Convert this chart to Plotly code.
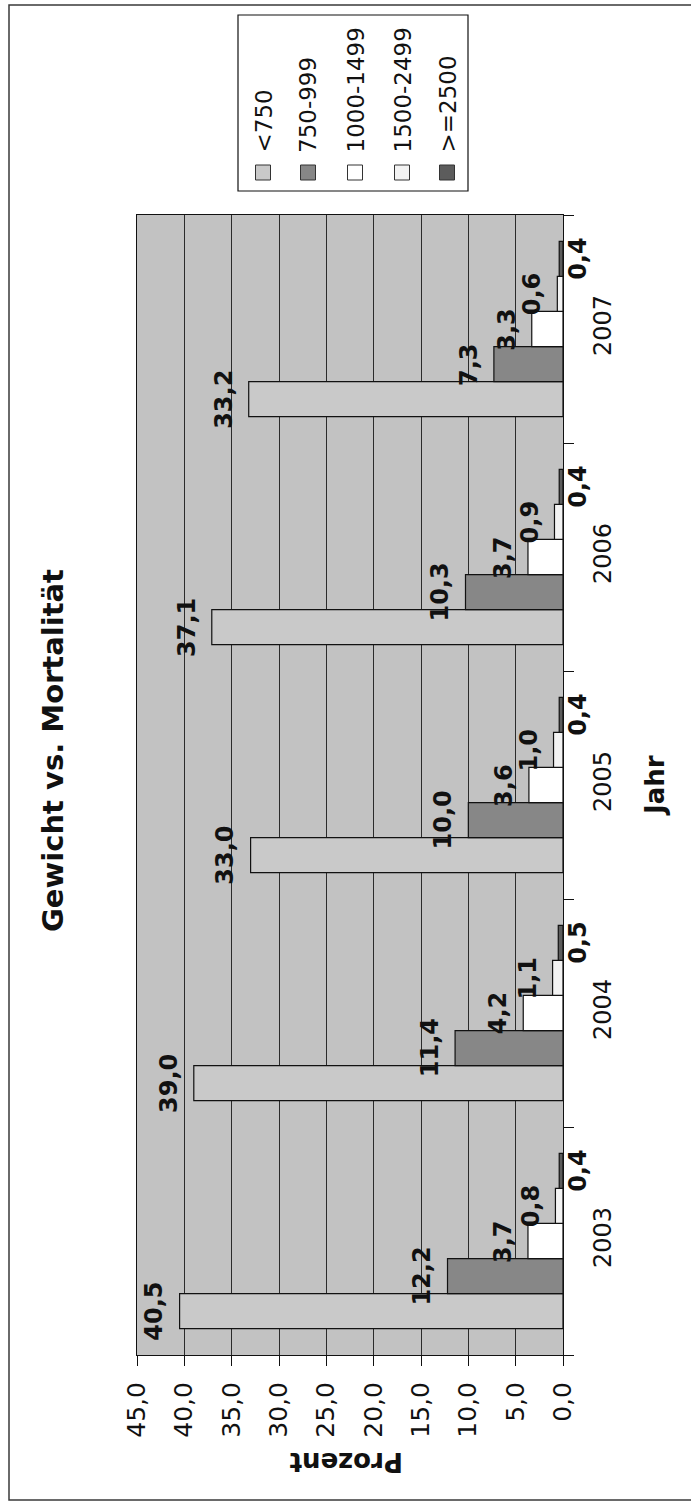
import plotly.graph_objects as go

# Mortality (%) by birth-weight class and year
years = ["2003", "2004", "2005", "2006", "2007"]
series_names = ["<750", "750-999", "1000-1499", "1500-2499", ">=2500"]
lt750 = [40.5, 39.0, 33.0, 37.1, 33.2]
w750_999 = [12.2, 11.4, 10.0, 10.3, 7.3]
w1000_1499 = [3.7, 4.2, 3.6, 3.7, 3.3]
w1500_2499 = [0.8, 1.1, 1.0, 0.9, 0.6]
ge2500 = [0.4, 0.5, 0.4, 0.4, 0.4]
x_ticks = [0, 5, 10, 15, 20, 25, 30, 35, 40, 45]

series_values = [lt750, w750_999, w1000_1499, w1500_2499, ge2500]
series_colors = ["#c9c9c9", "#878787", "#ffffff", "#f3f3f3", "#5c5c5c"]

W, H = 691, 1504
# plot area in pixels
L, R, T, B = 137, 563, 215, 1355
FONT = "DejaVu Sans"
BARGAP = 1.5 / 6.5


def px(X):
    return (X - L) / (R - L)


def py(Y):
    return (B - Y) / (B - T)


def fmt(v):
    return f"{v:.1f}".replace(".", ",")


fig = go.Figure()

for name, vals, col in zip(series_names, series_values, series_colors):
    fig.add_trace(go.Bar(
        name=name,
        y=years,
        x=vals,
        orientation="h",
        marker=dict(color=col, line=dict(color="#111111", width=1.2)),
        showlegend=False,
    ))

annotations = []

# value labels: beyond the bar end, except the smallest class,
# whose labels sit just right of the category axis
band_px = (B - T) / len(years)
bar_px = band_px * (1 - BARGAP) / len(series_names)
label_font = dict(family=FONT, size=24, color="#111111", weight="bold")
n_series = len(series_names)
for s, vals in enumerate(series_values):
    offset = (s - (n_series - 1) / 2) * bar_px
    last = s == n_series - 1
    for idx, v in enumerate(vals):
        annotations.append(dict(
            x=0 if last else v, y=idx, xref="x", yref="y", text=fmt(v),
            showarrow=False, textangle=-90,
            xanchor="left" if last else "right", yanchor="middle",
            xshift=-1 if last else -9, yshift=offset,
            font=label_font,
        ))

# chart title and axis titles
annotations.append(dict(
    x=px(53), y=py(751), xref="paper", yref="paper", text="Gewicht vs. Mortalität",
    showarrow=False, textangle=-90, xanchor="center", yanchor="middle",
    font=dict(family=FONT, size=29, color="#111111", weight="bold"),
))
annotations.append(dict(
    x=px(655), y=py(786), xref="paper", yref="paper", text="Jahr",
    showarrow=False, textangle=-90, xanchor="center", yanchor="middle",
    font=dict(family=FONT, size=26, color="#111111", weight="bold"),
))
annotations.append(dict(
    x=px(347), y=py(1462), xref="paper", yref="paper", text="Prozent",
    showarrow=False, textangle=180, xanchor="center", yanchor="middle",
    font=dict(family=FONT, size=26, color="#111111", weight="bold"),
))

shapes = []
# outer chart frame
shapes.append(dict(type="rect", xref="paper", yref="paper",
                   x0=px(9), x1=px(760), y0=py(1500), y1=py(5),
                   line=dict(color="#3a3a3a", width=1.5), fillcolor="rgba(0,0,0,0)",
                   layer="below"))

# legend box with rotated entries
shapes.append(dict(type="rect", xref="paper", yref="paper",
                   x0=px(238), x1=px(468), y0=py(191), y1=py(15),
                   line=dict(color="#111111", width=1.2), fillcolor="#ffffff"))
legend_x = [263, 308, 355, 402, 447]
for name, col, lx in zip(series_names, series_colors, legend_x):
    shapes.append(dict(type="rect", xref="paper", yref="paper",
                       x0=px(lx - 7.5), x1=px(lx + 7.5), y0=py(180), y1=py(165),
                       line=dict(color="#333333", width=1), fillcolor=col))
    annotations.append(dict(
        x=px(lx), y=py(155), xref="paper", yref="paper", text=name,
        showarrow=False, textangle=-90, xanchor="center", yanchor="bottom",
        font=dict(family=FONT, size=23, color="#111111"),
    ))

fig.update_layout(
    width=W, height=H,
    margin=dict(l=L, r=W - R, t=T, b=H - B, pad=0),
    paper_bgcolor="#ffffff",
    plot_bgcolor="#c2c2c2",
    barmode="group",
    bargap=BARGAP,
    bargroupgap=0,
    separators=",.",
    showlegend=False,
    annotations=annotations,
    shapes=shapes,
    font=dict(family=FONT, color="#111111"),
)

fig.update_xaxes(
    range=[45, 0],
    tickvals=x_ticks,
    tickformat=".1f",
    tickangle=-90,
    ticks="outside", ticklen=10, tickwidth=1.2, tickcolor="#111111",
    ticklabelstandoff=6,
    showline=True, linecolor="#111111", linewidth=1.2, mirror=True,
    showgrid=True, gridcolor="#2b2b2b", gridwidth=1.2,
    zeroline=False,
    tickfont=dict(family=FONT, size=25, color="#111111"),
)

fig.update_yaxes(
    type="category",
    categoryorder="array", categoryarray=years,
    range=[-0.5, len(years) - 0.5],
    side="right",
    tickangle=-90,
    ticks="outside", ticklen=10, tickwidth=1.2, tickcolor="#111111",
    tickson="boundaries",
    ticklabelstandoff=18,
    showline=True, linecolor="#111111", linewidth=1.2, mirror=True,
    showgrid=False,
    tickfont=dict(family=FONT, size=24, color="#111111"),
)

fig.write_html("out.html")
